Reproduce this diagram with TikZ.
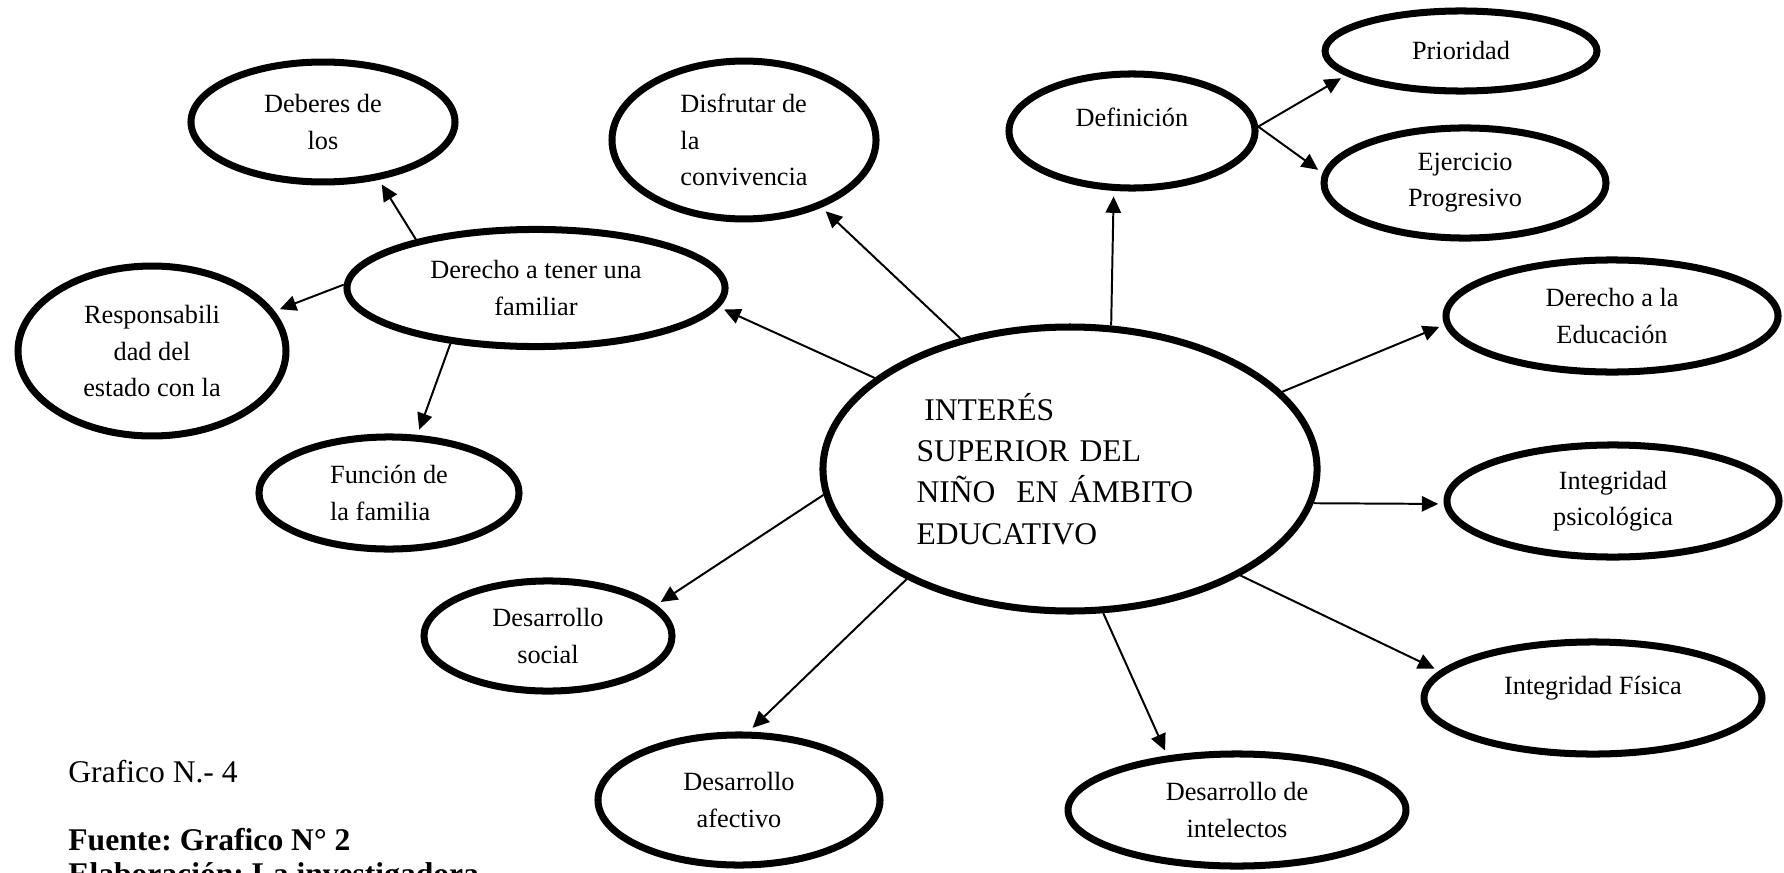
\documentclass[tikz,border=0pt]{standalone}
\usepackage{fontspec}
\setmainfont{Liberation Serif}
\usetikzlibrary{shapes.geometric, arrows.meta}
\frenchspacing

\begin{document}
\begin{tikzpicture}[x=0.456pt, y=-0.456pt,
  oval/.style={draw, ellipse, line width=3.2pt, inner sep=0pt, align=center, font=\fontsize{12}{16.5}\selectfont},
  arr/.style={line width=0.9pt, shorten >=2.5pt, -{Triangle[length=7.5pt, width=7pt]}},
  note/.style={anchor=base west, inner sep=0pt, font=\fontsize{14.4}{15.5}\selectfont}]
\useasboundingbox (0,0) rectangle (1784,872);
% centre
\node[oval, align=left, text width=140pt, font=\fontsize{14.4}{18.8}\selectfont, minimum width=225.3pt, minimum height=129.5pt] (cen) at (1070,469) {\hspace*{3.6pt}INTERÉS\\ SUPERIOR DEL\\ NIÑO\ \ EN ÁMBITO\\ EDUCATIVO};
% left side
\node[oval, minimum width=172.4pt, minimum height=53.4pt] (fam) at (536,288) {Derecho a tener una\\ familiar};
\node[oval, minimum width=120.4pt, minimum height=54.7pt] (deb) at (323,122) {Deberes de\\ los};
\node[oval, minimum width=122.2pt, minimum height=77.5pt] (res) at (152,351) {Responsabili\\ dad del\\ estado con la};
\node[oval, align=left, minimum width=118.6pt, minimum height=51.1pt] (fun) at (389,493) {Función de\\ la familia};
\node[oval, align=left, minimum width=120.4pt, minimum height=72pt] (dis) at (744,140) {Disfrutar de\\ la\\ convivencia};
\node[oval, minimum width=113.1pt, minimum height=50.2pt] (soc) at (548,636) {Desarrollo\\ social};
\node[oval, minimum width=128.6pt, minimum height=59.3pt] (afe) at (739,800) {Desarrollo\\ afectivo};
% right side
\node[oval, text depth=13pt, minimum width=112.2pt, minimum height=52pt] (def) at (1132,131) {Definición};
\node[oval, minimum width=124pt, minimum height=36.5pt] (pri) at (1461,51) {Prioridad};
\node[oval, minimum width=128.6pt, minimum height=50.2pt] (eje) at (1465,183) {Ejercicio\\ Progresivo};
\node[oval, minimum width=151.4pt, minimum height=51.1pt] (edu) at (1612,316) {Derecho a la\\ Educación};
\node[oval, minimum width=151.4pt, minimum height=51.1pt] (psi) at (1613,501) {Integridad\\ psicológica};
\node[oval, text depth=12pt, minimum width=154.1pt, minimum height=51.1pt] (fis) at (1593,698) {Integridad Física};
\node[oval, minimum width=154.1pt, minimum height=51.1pt] (int) at (1237,810) {Desarrollo de\\ intelectos};
% caption
\node[note] (gra) at (68,782) {Grafico N.- 4};
\node[note, font=\fontsize{14.4}{15.5}\selectfont\bfseries] (fue) at (68,850) {Fuente: Grafico N° 2};
\node[note, font=\fontsize{14.4}{15.5}\selectfont\bfseries] (ela) at (68,884) {Elaboración: La investigadora};
% connectors
\draw[arr] (cen.155) -- (fam.354);
\draw[arr] (cen.130) -- (dis.319);
\draw[arr] (cen.74) -- (def.253);
\draw[arr] (def.2) -- (pri.192);
\draw[arr] (def.2) -- (eje.176);
\draw[arr] (cen.20) -- (edu.183);
\draw[arr] (cen.352) -- (psi.181);
\draw[arr] (cen.328.5) -- (fis.170);
\draw[arr] (cen.283) -- (int.142);
\draw[arr] (cen.214) -- (afe.82);
\draw[arr] (cen.186) -- (soc.16);
\draw[arr] (fam.158) -- (deb.314.5);
\draw[arr] (fam.179) -- (res.18);
\draw[arr] (fam.213) -- (fun.64);
\end{tikzpicture}
\end{document}
